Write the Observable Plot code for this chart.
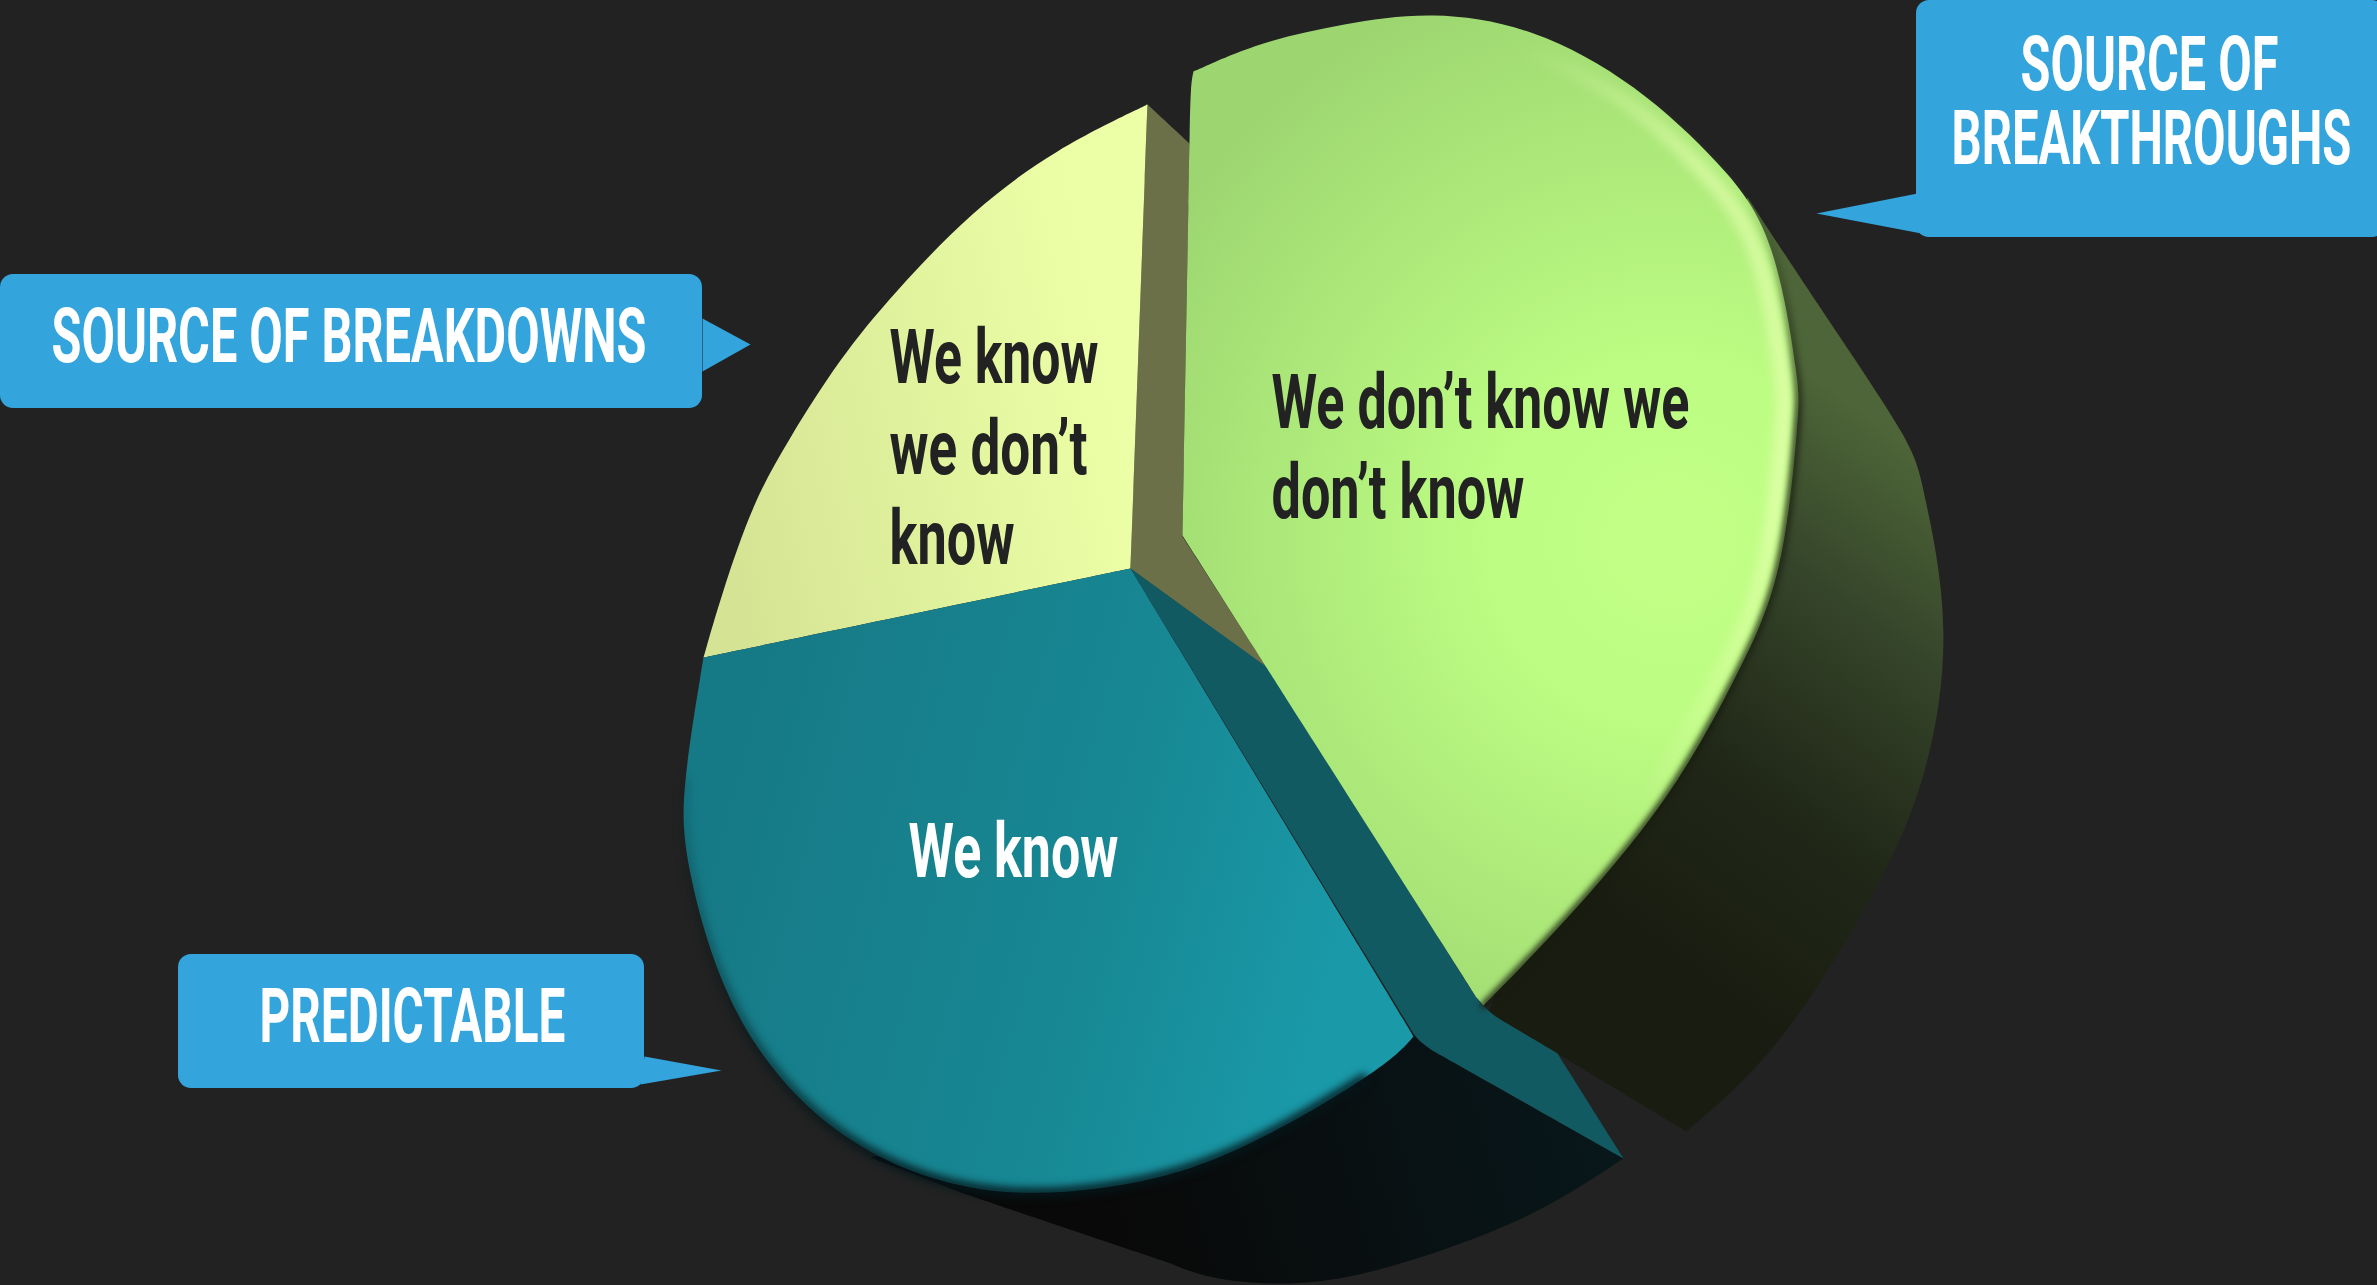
<!DOCTYPE html>
<html>
<head>
<meta charset="utf-8">
<script src="https://cdn.jsdelivr.net/npm/d3@7"></script>
<script src="https://cdn.jsdelivr.net/npm/@observablehq/plot@0.6"></script>
<style>
  html, body { margin: 0; padding: 0; background: #222222; overflow: hidden; }
  svg { display: block; }
</style>
</head>
<body>
<div id="chart"></div>
<script>
// Curved outer edges of the slices of the exploded 3D pie, in drawing units.
const yellowArc = [[1147,104],[1057,151],[973,213],[897,290],[840,360],[790,437],[753,507],[723,590],[703,657]];
const greenArc = [[1193,71],[1263,43],[1344,24],[1433,15],[1533,33],[1633,87],[1717,163],[1770,247],[1795,367],[1796,433],[1778,567],[1733,680],[1663,800],[1567,917],[1483,1005]];
const tealArc = [[703,657],[685,780],[690,873],[737,1013],[837,1130],[970,1187],[1103,1187],[1230,1152],[1363,1078],[1413,1036]];
const greenSideArc = [[1747,197],[1825,315],[1900,430],[1925,500],[1943,633],[1917,793],[1850,933],[1770,1050],[1686,1131]];
const tealUnderArc = [[1623,1158],[1547,1205],[1463,1242],[1363,1273],[1280,1283],[1213,1277],[1170,1263]];

// Sharp vertices of the faces.
const yellowHub = [1130,568];
const greenNotch = [[1476,997],[1266,667],[1182,535],[1189,142]];
const oliveWall = [[1147,104],[1189,143],[1182,536],[1267,668],[1130,568]];
const tealWallUpper = [[1130,568],[1267,667],[1470,988]];
const tealWallTurn = [[1480,1003],[1492,1014]];
const tealWallLower = [[1500,1019],[1557,1053],[1623,1158],[1432,1050]];
const tealWallEnd = [[1420,1042]];
const tealWallClose = [1413,1033];
const tealUnderSeam = [[963,1193],[870,1157],[1100,1100]];

// Callouts
const calloutBoxes = [
  {x1: 0, x2: 702, y1: 274, y2: 408},
  {x1: 178, x2: 644, y1: 954, y2: 1088},
  {x1: 1916, x2: 2385, y1: 0, y2: 237}
];
const breakdownsPointer = [[702,318],[750,344],[702,371]];
const predictablePointer = [[644,1056],[721,1070],[640,1084]];
const breakthroughsPointer = [[1917,193],[1816,213],[1921,233]];

// Text lines with their baseline start and set width.
const calloutLines = [
  {text: "SOURCE OF BREAKDOWNS", x: 51, y: 361, w: 595},
  {text: "PREDICTABLE", x: 259, y: 1041, w: 306},
  {text: "SOURCE OF", x: 2020, y: 89, w: 258},
  {text: "BREAKTHROUGHS", x: 1951, y: 163, w: 400}
];
const darkLines = [
  {text: "We know", x: 889, y: 382, w: 209},
  {text: "we don’t", x: 889, y: 473, w: 198},
  {text: "know", x: 889, y: 563, w: 125},
  {text: "We don’t know we", x: 1271, y: 427, w: 418},
  {text: "don’t know", x: 1271, y: 517, w: 253}
];
const whiteLines = [
  {text: "We know", x: 908, y: 876, w: 210}
];

const labelFont = "'Liberation Sans Narrow', 'Roboto', sans-serif";
const labelSize = 76;

// A tripled vertex is a sharp corner of a B-spline outline.
const corner = (p) => [p, p, p];
const corners = (ps) => ps.flatMap(corner);

// B-spline control points whose curve runs through the listed edge points.
function through(arc) {
  let q = arc.map((p) => [...p]);
  for (let pass = 0; pass < 6; pass++) {
    q = q.map((p, i) => {
      if (i === 0 || i === q.length - 1) return p;
      return [0, 1].map((k) => p[k] + arc[i][k] - (q[i - 1][k] + 4 * p[k] + q[i + 1][k]) / 6);
    });
  }
  return q;
}
const spline = (arc) => [...corner(arc[0]), ...through(arc).slice(1, -1), ...corner(arc[arc.length - 1])];

// Top faces
const yellowTop = [...spline(yellowArc), ...corner(yellowHub), ...corner(yellowArc[0])];
const greenTop = [...spline(greenArc), ...corners(greenNotch), [1190,85], ...corner(greenArc[0])];
const tealTop = [...spline(tealArc), ...corner(yellowHub), ...corner(tealArc[0])];

// Side walls and the cut faces between slices
const oliveSide = [...corners(oliveWall), ...corner(oliveWall[0])];
const tealSide = [...corners(tealWallUpper), ...tealWallTurn, ...corners(tealWallLower), ...tealWallEnd, ...corner(tealWallClose), ...corner(tealWallUpper[0])];
const tealUnder = [...corner(tealWallClose), ...corner([1432,1050]), ...spline(tealUnderArc), ...corners(tealUnderSeam), ...corner(tealWallClose)];
const greenSide = [...spline(greenSideArc), ...corner([1488,1012]), ...corner([1600,700]), ...corner(greenSideArc[0])];

// Shaded fills and fading rim strokes shared by the faces.
function gradients() {
  const defs = d3.create("svg:defs");
  const stopsOn = (g, stops) => stops.forEach(([o, c, a = 1]) =>
    g.append("stop").attr("offset", o).attr("stop-color", c).attr("stop-opacity", a));
  const linear = (id, [x1, y1, x2, y2], stops) => stopsOn(
    defs.append("linearGradient").attr("id", id).attr("gradientUnits", "userSpaceOnUse")
      .attr("x1", x1).attr("y1", y1).attr("x2", x2).attr("y2", y2), stops);
  const radial = (id, [cx, cy, r], stops) => stopsOn(
    defs.append("radialGradient").attr("id", id).attr("gradientUnits", "userSpaceOnUse")
      .attr("cx", cx).attr("cy", cy).attr("r", r), stops);
  linear("yellow-face", [720, 500, 1120, 420], [[0, "#d5e494"], [1, "#ecffa6"]]);
  radial("green-face", [1670, 540, 590], [[0, "#c2ff86"], [0.3, "#bdfd83"], [1, "#9dd671"]]);
  linear("teal-face", [720, 830, 1340, 1000], [[0, "#167a86"], [0.6, "#178894"], [1, "#1a9aa9"]]);
  linear("green-side", [1945, 470, 1620, 920], [[0, "#4d6538"], [0.3, "#35452a"], [0.65, "#212818"], [1, "#191d11"]]);
  linear("teal-under", [1600, 1120, 1130, 1260], [[0, "#08171a"], [1, "#090909"]]);
  linear("teal-rim", [690, 800, 900, 1180], [[0, "#04171b", 0.15], [0.5, "#04171b", 0.5], [1, "#04171b", 1]]);
  linear("green-edge", [1760, 190, 1775, 420], [[0, "#171c0e", 0], [1, "#171c0e", 1]]);
  linear("green-glow", [1540, 40, 1640, 840], [[0, "#e6ffb0", 0], [0.18, "#e6ffb0", 0.7], [0.6, "#e6ffb0", 0.85], [1, "#e6ffb0", 0]]);
  return defs.node();
}

// Narrow each line horizontally to its set width, standing in for a condensed face.
const measure = document.createElement("canvas").getContext("2d");
measure.font = `700 ${labelSize}px ${labelFont}`;
const setWidths = (rows) => (index, scales, values, dimensions, context, next) => {
  const g = next(index, scales, values, dimensions, context);
  d3.select(g).selectAll("text").attr("transform", function (_, i) {
    const row = rows[index[i]];
    const k = row.w / measure.measureText(row.text).width;
    return `${this.getAttribute("transform") || ""} scale(${k},1)`;
  });
  return g;
};

const face = (points, fill) => Plot.line(points, {fill, stroke: "none", curve: "basis"});
const pointer = (points) => Plot.line(points, {fill: "#34a4dc", stroke: "none"});
const softEdge = (arc, stroke, strokeWidth, blur) => Plot.line(spline(arc), {
  stroke, strokeWidth, curve: "basis", imageFilter: `blur(${blur}px)`
});
const labels = (rows, fill) => Plot.text(rows, {
  x: "x", y: "y", text: "text", fill, textAnchor: "start", lineAnchor: "bottom",
  fontFamily: labelFont, fontWeight: 700, fontSize: labelSize, render: setWidths(rows)
});

// The light band sits a little inside the green slice's rim.
const greenGlow = greenArc.slice(4, 13).map(([x, y]) => [1430 + (x - 1430) * 0.962, 470 + (y - 470) * 0.962]);

const chart = Plot.plot({
  width: 2377,
  height: 1285,
  margin: 0,
  style: {background: "#222222"},
  x: {domain: [0, 2377], range: [0, 2377], axis: null},
  y: {domain: [0, 1285], range: [0, 1285], axis: null},
  marks: [
    gradients,

    // Sides of the slices, back to front
    face(greenSide, "url(#green-side)"),
    face(tealUnder, "url(#teal-under)"),
    face(oliveSide, "#6b7049"),
    face(tealSide, "#125a62"),

    // Top faces with their soft rims
    face(yellowTop, "url(#yellow-face)"),
    face(tealTop, "url(#teal-face)"),
    softEdge(tealArc.slice(1, -1), "url(#teal-rim)", 9, 4),
    face(greenTop, "url(#green-face)"),
    softEdge(greenGlow, "url(#green-glow)", 14, 6),
    softEdge(greenArc.slice(6), "url(#green-edge)", 6, 3),

    // Callouts
    Plot.rect(calloutBoxes, {x1: "x1", x2: "x2", y1: "y1", y2: "y2", fill: "#34a4dc", rx: 13}),
    pointer(breakdownsPointer),
    pointer(predictablePointer),
    pointer(breakthroughsPointer),

    labels(calloutLines, "#ffffff"),
    labels(darkLines, "#222222"),
    labels(whiteLines, "#ffffff")
  ]
});

document.getElementById("chart").append(chart);
</script>
</body>
</html>
